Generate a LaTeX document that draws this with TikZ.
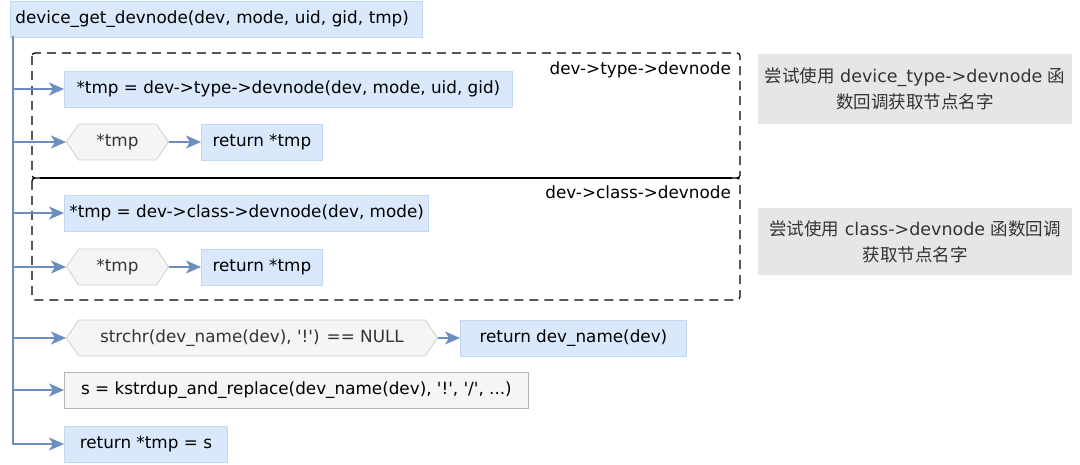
\documentclass[tikz,border=0pt]{standalone}
\usepackage{fontspec}
\setmainfont{DejaVu Sans}[Ligatures=TeXOff]
\newfontfamily\cjk{Noto Sans CJK SC}
\usetikzlibrary{shapes.symbols,arrows.meta}
\definecolor{bfill}{HTML}{DAE8FC}
\definecolor{bdraw}{HTML}{C3D8F5}
\definecolor{lblue}{HTML}{6C8EBF}
\definecolor{hfill}{HTML}{F5F5F5}
\definecolor{hdraw}{HTML}{CFCFCF}
\definecolor{gdraw}{HTML}{B5B5B5}
\definecolor{nfill}{HTML}{E6E6E6}
\definecolor{tgray}{HTML}{333333}
\begin{document}
\begin{tikzpicture}[x=1pt,y=-1pt,
  font=\fontsize{16.8}{20}\selectfont,
  bluebox/.style={draw=bdraw, fill=bfill, line width=0.8pt, minimum height=36pt, inner xsep=5pt, anchor=west},
  hexbox/.style={shape=signal, signal to=west and east, signal pointer angle=112, draw=hdraw, fill=hfill, text=tgray, line width=0.8pt, minimum height=36pt, inner xsep=4pt, anchor=west},
  graybox/.style={draw=gdraw, fill=hfill, line width=0.8pt, minimum height=36pt, inner xsep=5pt, anchor=west, text=tgray},
  notebox/.style={fill=nfill, text=tgray, align=center, inner sep=0pt, font=\fontsize{17.5}{26}\selectfont},
  conn/.style={draw=lblue, line width=1.4pt, -{Stealth[length=15pt,width=13pt,inset=4pt]}},
  grp/.style={draw=black, line width=1.2pt, dash pattern=on 9pt off 6pt, rounded corners=3pt},
  grplabel/.style={anchor=east, inner sep=0pt}
]
\useasboundingbox (0,0) rectangle (1080,465);

% groups
\draw[grp] (32,53) rectangle (740,178);
\draw[grp] (32,178) rectangle (740,300);
\draw[black, line width=1.2pt] (40,178) -- (732,178);
\node[grplabel] (g1) at (731,70) {dev->type->devnode};
\node[grplabel] (g2) at (731,192) {dev->class->devnode};

% title
\node[bluebox, text width=402pt, align=left] (title) at (10,19) {device\_get\_devnode(dev, mode, uid, gid, tmp)};
\coordinate (t0) at (13,36);

% type branch
\node[bluebox, minimum width=448pt] (n1) at (64,89) {*tmp = dev->type->devnode(dev, mode, uid, gid)};
\node[hexbox, minimum width=102pt] (h1) at (66,142) {*tmp};
\node[bluebox, minimum width=121pt] (r1) at (201,142) {return *tmp};

% class branch
\node[bluebox, minimum width=361pt] (n2) at (64,213) {*tmp = dev->class->devnode(dev, mode)};
\node[hexbox, minimum width=102pt] (h2) at (66,267) {*tmp};
\node[bluebox, minimum width=121pt] (r2) at (201,267) {return *tmp};

% name branch
\node[hexbox, minimum width=371pt] (h3) at (66,338) {strchr(dev\_name(dev), '!') == NULL};
\node[bluebox, minimum width=226pt] (r3) at (460,338) {return dev\_name(dev)};
\node[graybox, minimum width=464pt, text=black] (n3) at (64,390) {s = kstrdup\_and\_replace(dev\_name(dev), '!', '/', ...)};
\node[bluebox, minimum width=163pt] (n4) at (64,444) {return *tmp = s};

% notes
\node[notebox, minimum width=314pt, minimum height=70pt] (c1) at (915,89) {{\cjk 尝试使用} device\_type->devnode {\cjk 函}\\{\cjk 数回调获取节点名字}};
\node[notebox, minimum width=314pt, minimum height=67pt] (c2) at (915,241.5) {{\cjk 尝试使用} class->devnode {\cjk 函数回调}\\{\cjk 获取节点名字}};

% connectors
\draw[conn] (t0) |- (n4.west);
\draw[conn] (t0 |- n1.west) -- (n1.west);
\draw[conn] (t0 |- h1.west) -- (h1.west);
\draw[conn] (t0 |- n2.west) -- (n2.west);
\draw[conn] (t0 |- h2.west) -- (h2.west);
\draw[conn] (t0 |- h3.west) -- (h3.west);
\draw[conn] (t0 |- n3.west) -- (n3.west);
\draw[conn] (h1.east) -- (r1.west);
\draw[conn] (h2.east) -- (r2.west);
\draw[conn] (h3.east) -- (r3.west);
\end{tikzpicture}
\end{document}
